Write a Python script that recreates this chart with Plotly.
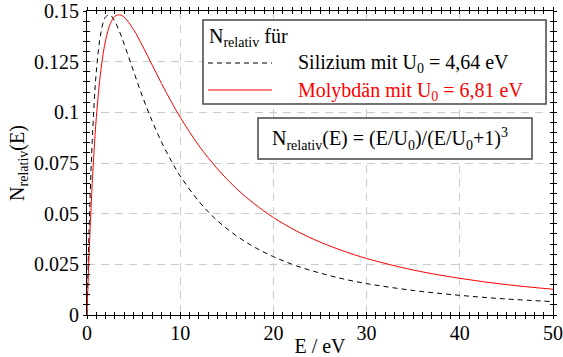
import plotly.graph_objects as go

# Energy values (eV) and relative yields
E = [0, 0.1, 0.25, 0.5, 0.75, 1, 1.5, 2, 2.5, 3, 3.5, 4, 5, 6, 7, 8, 9, 10,
     12, 14, 16, 18, 20, 22.5, 25, 27.5, 30, 35, 40, 45, 50]
N_si = [0, 0.0202, 0.0460, 0.0793, 0.1031, 0.1200, 0.1395, 0.1471, 0.1479,
        0.1448, 0.1397, 0.1335, 0.1202, 0.1072, 0.0956, 0.0853, 0.0764, 0.0686,
        0.0561, 0.0465, 0.0392, 0.0334, 0.0288, 0.0242, 0.0207, 0.0178, 0.0155,
        0.0121, 0.0097, 0.0079, 0.0066]
N_mo = [0, 0.0141, 0.0330, 0.0594, 0.0805, 0.0974, 0.1212, 0.1356, 0.1437,
        0.1474, 0.1481, 0.1469, 0.1408, 0.1324, 0.1233, 0.1142, 0.1056, 0.0976,
        0.0836, 0.0721, 0.0625, 0.0547, 0.0481, 0.0414, 0.0360, 0.0316, 0.0279,
        0.0222, 0.0181, 0.0150, 0.0127]

x_ticks = [0, 10, 20, 30, 40, 50]
y_ticks = [0, 0.025, 0.05, 0.075, 0.1, 0.125, 0.15]
y_ticklabels = ["0", "0.025", "0.05", "0.075", "0.1", "0.125", "0.15"]

FONT = "Liberation Serif, Times New Roman, serif"
W, H = 563, 357
L, R, T, B = 87, 553, 11, 315

def px(x):
    return (x - L) / (R - L)

def py(y):
    return (B - y) / (B - T)

fig = go.Figure()
fig.add_trace(go.Scatter(x=E, y=N_si, mode="lines", line=dict(color="black", width=1, dash="5px,4px", shape="spline"),
                         showlegend=False, hoverinfo="skip"))
fig.add_trace(go.Scatter(x=E, y=N_mo, mode="lines", line=dict(color="#ff0000", width=1, shape="spline"),
                         showlegend=False, hoverinfo="skip"))
# invisible trace to anchor the overlay axes (inside ticks)
fig.add_trace(go.Scatter(x=[0], y=[0], xaxis="x2", yaxis="y2", mode="markers",
                         marker=dict(opacity=0), showlegend=False, hoverinfo="skip"))

tick_font = dict(family=FONT, size=20, color="black")
axis_common = dict(showline=True, linecolor="black", linewidth=1, mirror="ticks",
                   tickcolor="black", tickfont=tick_font, zeroline=False, automargin=False)

fig.update_layout(
    width=W, height=H,
    margin=dict(l=L, r=W - R, t=T, b=H - B),
    paper_bgcolor="white", plot_bgcolor="white",
    font=dict(family=FONT, size=20, color="black"),
    showlegend=False,
    xaxis=dict(range=[0, 50], tickvals=x_ticks, ticks="outside", ticklen=3, ticklabelstandoff=-3,
               showgrid=True, gridcolor="#cccccc", griddash="8px,6px", gridwidth=1,
               minor=dict(dtick=1, ticks="outside", ticklen=3, tickcolor="black", showgrid=False),
               title=dict(text="E / eV", font=dict(family=FONT, size=20), standoff=2),
               **axis_common),
    yaxis=dict(range=[0, 0.15], tickvals=y_ticks, ticktext=y_ticklabels, ticks="outside", ticklen=3,
               showgrid=True, gridcolor="#cccccc", griddash="8px,6px", gridwidth=1,
               minor=dict(dtick=0.005, ticks="outside", ticklen=3, tickcolor="black", showgrid=False),
               title=dict(text="N<sub>relativ</sub>(E)", font=dict(family=FONT, size=20), standoff=4),
               **axis_common),
    xaxis2=dict(range=[0, 50], overlaying="x", anchor="y2", showticklabels=False,
                ticks="inside", ticklen=3, tickcolor="black",
                showgrid=False, zeroline=False, showline=False, mirror="ticks", automargin=False,
                minor=dict(dtick=1, ticks="inside", ticklen=3, tickcolor="black", showgrid=False),
                tickvals=x_ticks),
    yaxis2=dict(range=[0, 0.15], overlaying="y", anchor="x2", showticklabels=False,
                ticks="inside", ticklen=3, tickcolor="black",
                showgrid=False, zeroline=False, showline=False, mirror="ticks", automargin=False,
                minor=dict(dtick=0.005, ticks="inside", ticklen=3, tickcolor="black", showgrid=False),
                tickvals=y_ticks),
)

# legend box
fig.add_shape(type="rect", xref="paper", yref="paper", x0=px(203), x1=px(546), y0=py(104), y1=py(20),
              line=dict(color="#444444", width=1.5), fillcolor="white", layer="above")
fig.add_shape(type="line", xref="paper", yref="paper", x0=px(208), x1=px(272), y0=py(63), y1=py(63),
              line=dict(color="black", width=1, dash="5px,4px"), layer="above")
fig.add_shape(type="line", xref="paper", yref="paper", x0=px(208), x1=px(272), y0=py(90), y1=py(90),
              line=dict(color="#ff0000", width=1), layer="above")
fig.add_annotation(xref="paper", yref="paper", x=px(207), y=py(37), xanchor="left", yanchor="middle",
                   text="N<sub>relativ</sub> für", showarrow=False, font=dict(family=FONT, size=20, color="black"))
fig.add_annotation(xref="paper", yref="paper", x=px(296), y=py(64), xanchor="left", yanchor="middle",
                   text="Silizium mit U<sub>0</sub> = 4,64 eV", showarrow=False,
                   font=dict(family=FONT, size=20, color="black"))
fig.add_annotation(xref="paper", yref="paper", x=px(296), y=py(91), xanchor="left", yanchor="middle",
                   text="Molybdän mit U<sub>0</sub> = 6,81 eV", showarrow=False,
                   font=dict(family=FONT, size=20, color="#ff0000"))

# formula box
fig.add_shape(type="rect", xref="paper", yref="paper", x0=px(258), x1=px(532), y0=py(159), y1=py(118),
              line=dict(color="#444444", width=1.5), fillcolor="white", layer="above")
fig.add_annotation(xref="paper", yref="paper", x=px(270), y=py(139), xanchor="left", yanchor="middle",
                   text="N<sub>relativ</sub>(E) = (E/U<sub>0</sub>)/(E/U<sub>0</sub>+1)<sup>3</sup>",
                   showarrow=False, font=dict(family=FONT, size=20, color="black"))

fig.write_html("out.html", config={"displayModeBar": False},
               post_script="document.body.style.margin='0';document.body.style.overflow='hidden';")
